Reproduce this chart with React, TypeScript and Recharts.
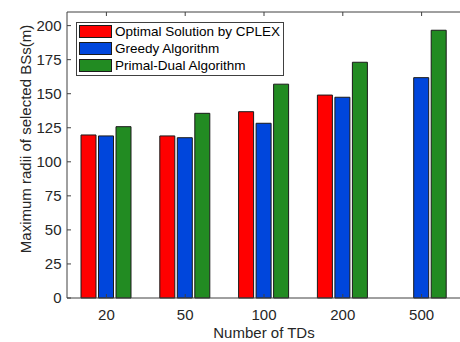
import React from 'react';
import { BarChart, Bar, XAxis, YAxis, Legend, Label } from 'recharts';

const categories = ['20', '50', '100', '200', '500'];
const cplexValues: (number | null)[] = [119.7, 119, 136.8, 149, null];
const greedyValues = [119, 117.7, 128.3, 147.4, 161.8];
const primalDualValues = [125.8, 135.6, 157, 173.1, 196.6];
const yTicks = [0, 25, 50, 75, 100, 125, 150, 175, 200];

const seriesNames = ['Optimal Solution by CPLEX', 'Greedy Algorithm', 'Primal-Dual Algorithm'];
const seriesColors = ['#ff0000', '#0046dc', '#228b22'];

const data = categories.map((c, i) => ({
  name: c,
  cplex: cplexValues[i],
  greedy: greedyValues[i],
  pd: primalDualValues[i],
}));

const FONT = '"Liberation Sans", Arial, Helvetica, sans-serif';
const AXIS = '#404040';
const TEXT = '#262626';

const LeftTick = (p: any) => (
  <g>
    <line x1={p.x} x2={p.x + 4} y1={p.y} y2={p.y} stroke={AXIS} />
    <text x={p.x - 5.5} y={p.y} dy="0.36em" textAnchor="end" fontSize={15} fontFamily={FONT} fill={TEXT}>
      {p.payload.value}
    </text>
  </g>
);
const RightTick = (p: any) => (
  <line x1={p.x} x2={p.x - 4} y1={p.y} y2={p.y} stroke={AXIS} />
);
const BottomTick = (p: any) => (
  <g>
    <line x1={p.x} x2={p.x} y1={p.y} y2={p.y - 4} stroke={AXIS} />
    <text x={p.x} y={p.y + 21.5} textAnchor="middle" fontSize={15} fontFamily={FONT} fill={TEXT}>
      {p.payload.value}
    </text>
  </g>
);
const TopTick = (p: any) => (
  <line x1={p.x} x2={p.x} y1={p.y} y2={p.y + 4} stroke={AXIS} />
);

const LegendBox = () => (
  <div
    style={{
      width: 206,
      height: 52,
      border: `1px solid ${AXIS}`,
      background: '#fff',
      fontFamily: FONT,
      fontSize: 13.5,
      color: '#000',
      boxSizing: 'content-box',
    }}
  >
    {seriesNames.map((n, i) => (
      <div key={n} style={{ height: 17, display: 'flex', alignItems: 'center', whiteSpace: 'nowrap' }}>
        <div
          style={{
            marginLeft: 2,
            width: 31,
            height: 11,
            background: seriesColors[i],
            border: '1px solid #1a1a1a',
            flex: 'none',
          }}
        />
        <span style={{ marginLeft: 3, lineHeight: '17px' }}>{n}</span>
      </div>
    ))}
  </div>
);

export default function App() {
  return (
    <div style={{ position: 'absolute', left: 0, top: 0, width: 460, height: 342, overflow: 'hidden', background: '#fff' }}>
      <BarChart
        width={462}
        height={342}
        data={data}
        margin={{ top: 11, right: 0, left: 0, bottom: 0 }}
        barSize={15}
        barGap={2.5}
      >
        <Bar dataKey="cplex" xAxisId="bottom" yAxisId="left" fill={seriesColors[0]} stroke="#1a1a1a" strokeWidth={1} isAnimationActive={false} />
        <Bar dataKey="greedy" xAxisId="bottom" yAxisId="left" fill={seriesColors[1]} stroke="#1a1a1a" strokeWidth={1} isAnimationActive={false} />
        <Bar dataKey="pd" xAxisId="bottom" yAxisId="left" fill={seriesColors[2]} stroke="#1a1a1a" strokeWidth={1} isAnimationActive={false} />
        <XAxis
          xAxisId="bottom"
          dataKey="name"
          orientation="bottom"
          height={44}
          tickSize={0}
          tickMargin={0}
          tickLine={false}
          axisLine={{ stroke: AXIS }}
          tick={BottomTick}
          interval={0}
        >
          <Label
            content={(props: any) => {
              const vb = props.viewBox || {};
              return (
                <text x={vb.x + vb.width / 2} y={337.5} textAnchor="middle" fontSize={15} fontFamily={FONT} fill={TEXT}>
                  Number of TDs
                </text>
              );
            }}
          />
        </XAxis>
        <XAxis
          xAxisId="top"
          dataKey="name"
          orientation="top"
          height={1}
          tickSize={0}
          tickMargin={0}
          tickLine={false}
          axisLine={{ stroke: AXIS }}
          tick={TopTick}
          interval={0}
        />
        <YAxis
          yAxisId="left"
          orientation="left"
          width={67}
          domain={[0, 210]}
          ticks={yTicks}
          tickSize={0}
          tickMargin={0}
          tickLine={false}
          axisLine={{ stroke: AXIS }}
          tick={LeftTick}
          interval={0}
        >
          <Label
            content={() => (
              <text
                transform="translate(30.5, 139) rotate(-90)"
                textAnchor="middle"
                fontSize={15}
                fontFamily={FONT}
                fill={TEXT}
              >
                Maximum radii of selected BSs(m)
              </text>
            )}
          />
        </YAxis>
        <YAxis
          yAxisId="right"
          orientation="right"
          width={1}
          domain={[0, 210]}
          ticks={yTicks}
          tickSize={0}
          tickMargin={0}
          tickLine={false}
          axisLine={{ stroke: AXIS }}
          tick={RightTick}
          interval={0}
        />
        <Legend
          layout="vertical"
          align="center"
          verticalAlign="middle"
          content={LegendBox}
          wrapperStyle={{ left: 76, top: 22, width: 208, height: 54 }}
        />
      </BarChart>
    </div>
  );
}
